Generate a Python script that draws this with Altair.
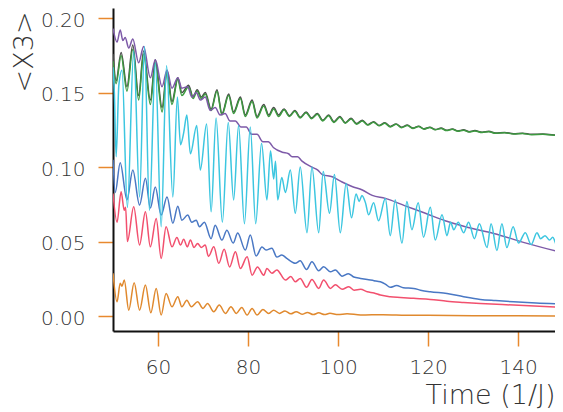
import altair as alt
import pandas as pd

# ---- data (time, <X3>) ----
orange_t = [50.0, 50.9, 51.6, 52.0, 52.5, 53.5, 54.7, 55.9, 57.2, 58.4, 59.6, 60.7, 61.8, 63.1, 64.4, 65.3,
            66.4, 67.4, 68.8, 70.0, 71.0, 72.4, 73.6, 75.0, 76.2, 77.4, 78.6, 79.8, 80.9, 82.0, 83.3, 84.6,
            85.7, 87.0, 88.2, 89.5, 90.7, 92.0, 93.2, 94.5, 95.7, 97.0, 98.2, 100.0, 102.0, 105.0, 110.0,
            115.0, 120.0, 130.0, 140.0, 150.0]
orange_v = [0.0287, 0.0096, 0.022, 0.020, 0.0242, 0.004, 0.0224, 0.004, 0.0208, 0.0022, 0.0186, 0.0007,
            0.0152, 0.0062, 0.013, 0.0062, 0.0107, 0.0062, 0.0096, 0.0051, 0.0085, 0.0029, 0.0074, 0.0018,
            0.0062, 0.0018, 0.0058, 0.0007, 0.0051, 0.0007, 0.0045, 0.0018, 0.0040, 0.0018, 0.0035, 0.0015,
            0.0030, 0.0012, 0.0025, 0.0010, 0.0022, 0.0010, 0.0019, 0.0010, 0.0016, 0.0008, 0.0009, 0.0006,
            0.0005, 0.0003, 0.0002, 0.0001]

red_t = [50.0, 50.9, 51.8, 52.5, 52.8, 53.2, 54.6, 55.9, 57.2, 58.3, 59.6, 60.7, 61.8, 63.1, 64.2, 65.0,
         65.7, 66.5, 67.2, 68.0, 68.8, 69.6, 70.5, 71.2, 72.4, 73.5, 74.7, 75.9, 77.2, 78.3, 79.8, 80.9,
         82.1, 83.5, 84.2, 85.3, 86.4, 88.3, 89.5, 90.5, 91.6, 93.0, 94.2, 95.7, 96.8, 98.3, 99.4, 100.9,
         102.4, 103.6, 105.0, 106.5, 108.0, 109.4, 111.6, 113.8, 116.8, 120.5, 124.2, 127.9, 131.6, 139.0,
         150.0]
red_v = [0.0823, 0.063, 0.0834, 0.071, 0.073, 0.050, 0.0734, 0.0477, 0.070, 0.0465, 0.0655, 0.0387, 0.060,
         0.0465, 0.0528, 0.0477, 0.0515, 0.0465, 0.051, 0.046, 0.0488, 0.046, 0.0477, 0.040, 0.0465, 0.0354,
         0.0448, 0.033, 0.0432, 0.032, 0.0398, 0.0275, 0.033, 0.0275, 0.032, 0.0287, 0.031, 0.0242, 0.0265,
         0.023, 0.0253, 0.0193, 0.0246, 0.0186, 0.0242, 0.0186, 0.021, 0.018, 0.0197, 0.0174, 0.018, 0.0163,
         0.0155, 0.0141, 0.013, 0.0125, 0.0119, 0.0112, 0.010, 0.0092, 0.0085, 0.0074, 0.0058]

blue_t = [50.0, 50.5, 51.6, 53.1, 54.4, 55.9, 57.2, 58.3, 59.4, 60.7, 62.0, 63.3, 64.4, 65.3, 66.6, 67.5,
          68.5, 69.2, 70.3, 71.8, 72.7, 74.2, 75.3, 76.7, 77.7, 79.4, 80.5, 81.8, 83.1, 84.0, 85.3, 86.4,
          87.5, 88.7, 90.5, 91.6, 93.0, 94.2, 95.7, 96.8, 98.3, 99.4, 100.9, 102.3, 103.5, 105.0, 106.5,
          108.0, 109.4, 110.5, 111.6, 113.0, 114.5, 116.8, 118.3, 120.5, 124.2, 127.9, 131.6, 135.0, 139.0,
          144.0, 150.0]
blue_v = [0.105, 0.083, 0.103, 0.078, 0.098, 0.0745, 0.0926, 0.0725, 0.0866, 0.0678, 0.080, 0.0624, 0.0738,
          0.0644, 0.0678, 0.063, 0.0644, 0.060, 0.063, 0.052, 0.061, 0.051, 0.0577, 0.049, 0.0557, 0.0443,
          0.0544, 0.0403, 0.0463, 0.0443, 0.0456, 0.0396, 0.041, 0.0385, 0.0354, 0.0371, 0.0313, 0.0365,
          0.0304, 0.0331, 0.0297, 0.031, 0.0268, 0.0285, 0.0262, 0.0253, 0.0245, 0.0238, 0.023, 0.0215,
          0.0193, 0.0205, 0.019, 0.0186, 0.0174, 0.0163, 0.0152, 0.013, 0.0112, 0.0104, 0.0096, 0.0088,
          0.0082]

cyan_t = [50.0, 50.3, 50.7, 51.3, 52.0, 53.2, 54.6, 55.9, 57.0, 58.1, 59.4, 60.7, 61.9, 63.3, 64.3, 65.0,
          65.7, 66.4, 67.2, 68.6, 69.4, 70.8, 71.8, 72.9, 74.3, 75.6, 76.8, 77.9, 79.2, 80.5, 81.7, 83.0,
          84.2, 85.0, 85.7, 86.1, 86.6, 87.5, 88.3, 89.4, 90.5, 91.6, 93.1, 94.2, 95.7, 96.7, 98.1, 99.2,
          100.5, 101.8, 103.0, 104.0, 104.7, 105.3, 106.1, 106.8, 107.9, 109.0, 110.5, 111.6, 112.7, 114.2,
          115.3, 116.4, 117.8, 119.0, 120.5, 121.6, 123.1, 124.2, 125.0, 125.7, 126.7, 127.9, 129.0, 130.3,
          131.4, 133.1, 134.0, 135.3, 136.4, 137.5, 138.9, 140.1, 141.6, 142.9, 144.2, 145.0, 146.0, 147.0,
          147.7, 148.8, 150.0]
cyan_v = [0.167, 0.150, 0.107, 0.155, 0.165, 0.073, 0.178, 0.080, 0.181, 0.071, 0.170, 0.060, 0.168, 0.080,
          0.147, 0.115, 0.123, 0.135, 0.109, 0.128, 0.098, 0.129, 0.070, 0.133, 0.063, 0.130, 0.078, 0.128,
          0.062, 0.127, 0.062, 0.116, 0.078, 0.111, 0.092, 0.104, 0.078, 0.093, 0.083, 0.098, 0.069, 0.100,
          0.056, 0.100, 0.056, 0.097, 0.069, 0.095, 0.056, 0.089, 0.066, 0.082, 0.077, 0.081, 0.076, 0.068,
          0.076, 0.064, 0.079, 0.054, 0.078, 0.049, 0.077, 0.058, 0.076, 0.053, 0.073, 0.051, 0.068, 0.054,
          0.063, 0.058, 0.063, 0.056, 0.063, 0.052, 0.062, 0.046, 0.062, 0.044, 0.062, 0.046, 0.060, 0.049,
          0.056, 0.048, 0.056, 0.052, 0.054, 0.051, 0.053, 0.046, 0.053]

purple_t = [50.0, 50.9, 51.6, 52.2, 52.7, 53.5, 54.4, 55.7, 56.8, 58.3, 59.4, 60.9, 62.0, 63.1, 64.4, 65.3,
            66.6, 67.5, 68.5, 69.4, 70.5, 71.6, 72.7, 73.8, 74.9, 76.0, 77.2, 78.4, 79.6, 80.8, 82.0, 83.3,
            84.5, 85.7, 87.6, 89.0, 89.8, 91.0, 92.0, 94.2, 95.5, 96.5, 98.7, 100.9, 103.1, 105.4, 107.6,
            110.5, 114.9, 119.4, 123.8, 128.3, 134.6, 142.0, 150.0]
purple_v = [0.193, 0.184, 0.192, 0.185, 0.187, 0.180, 0.186, 0.170, 0.181, 0.160, 0.172, 0.154, 0.165, 0.153,
            0.160, 0.153, 0.154, 0.147, 0.150, 0.145, 0.147, 0.138, 0.140, 0.135, 0.136, 0.131, 0.131, 0.127,
            0.127, 0.122, 0.122, 0.117, 0.117, 0.113, 0.110, 0.109, 0.107, 0.107, 0.104, 0.100, 0.098, 0.095,
            0.0935, 0.090, 0.087, 0.0846, 0.081, 0.079, 0.074, 0.069, 0.064, 0.060, 0.0555, 0.0488, 0.0425]

gray_t = [50.0, 50.7, 51.8, 53.1, 54.4, 55.7, 56.8, 58.3, 59.4, 60.9, 62.0, 63.1, 64.4, 65.3, 66.8, 67.8,
          68.7, 69.6, 70.5, 71.8, 73.1, 74.2, 75.7, 76.8, 78.3, 79.4, 80.9, 82.0, 83.5, 84.6, 85.7, 86.8,
          88.0, 89.2, 90.4, 91.6, 92.9, 94.1, 95.4, 96.6, 97.9, 99.1, 100.4, 101.6, 102.9, 104.1, 105.4,
          106.6, 107.9, 109.1, 110.4, 111.6, 112.9, 114.1, 115.4, 116.6, 117.9, 119.1, 120.4, 121.6, 122.9,
          124.1, 125.4, 126.6, 127.9, 129.1, 130.4, 132.0, 133.5, 135.0, 137.0, 139.0, 141.0, 143.0, 145.5,
          148.0, 150.0]
gray_v = [0.176, 0.158, 0.177, 0.154, 0.182, 0.148, 0.178, 0.145, 0.172, 0.140, 0.165, 0.144, 0.160, 0.150,
          0.155, 0.147, 0.152, 0.147, 0.150, 0.139, 0.152, 0.136, 0.149, 0.137, 0.147, 0.135, 0.145, 0.134,
          0.142, 0.135, 0.140, 0.135, 0.139, 0.1345, 0.138, 0.1335, 0.137, 0.133, 0.136, 0.1315, 0.135,
          0.1305, 0.134, 0.1298, 0.1328, 0.1292, 0.1315, 0.1285, 0.1305, 0.128, 0.1298, 0.1273, 0.129,
          0.1268, 0.1282, 0.1262, 0.1275, 0.1257, 0.1268, 0.1252, 0.1262, 0.1247, 0.1256, 0.1243, 0.125,
          0.1238, 0.1245, 0.1234, 0.124, 0.1229, 0.1233, 0.1224, 0.1227, 0.122, 0.1222, 0.1216, 0.1215]

green_t = gray_t
green_v = [0.171, 0.156, 0.175, 0.151, 0.179, 0.145, 0.176, 0.142, 0.170, 0.137, 0.163, 0.142, 0.159, 0.148,
           0.154, 0.146, 0.151, 0.146, 0.149, 0.138, 0.151, 0.135, 0.148, 0.136, 0.146, 0.134, 0.144, 0.133,
           0.141, 0.134, 0.139, 0.134, 0.1385, 0.134, 0.1375, 0.133, 0.1365, 0.1325, 0.1355, 0.131, 0.1345,
           0.130, 0.1335, 0.1295, 0.1323, 0.1288, 0.131, 0.1282, 0.1301, 0.1277, 0.1294, 0.127, 0.1287,
           0.1265, 0.1279, 0.126, 0.1272, 0.1255, 0.1266, 0.125, 0.126, 0.1245, 0.1254, 0.1241, 0.1248,
           0.1236, 0.1243, 0.1232, 0.1238, 0.1227, 0.1231, 0.1222, 0.1225, 0.1218, 0.122, 0.1214, 0.1213]

# drawing order: first is at the bottom
series = [
    ("orange", orange_t, orange_v, "#e0892e"),
    ("red", red_t, red_v, "#f2506e"),
    ("blue", blue_t, blue_v, "#4a78c4"),
    ("gray", gray_t, gray_v, "#4a4a4a"),
    ("green", green_t, green_v, "#3d9a40"),
    ("purple", purple_t, purple_v, "#7d5aa8"),
    ("cyan", cyan_t, cyan_v, "#3cc6e0"),
]

x_ticks = [60, 80, 100, 120, 140]
y_ticks = [0.0, 0.05, 0.10, 0.15, 0.20]

FONT = "DejaVu Sans"
TICK = "#e8892e"

x_axis = alt.Axis(values=x_ticks, grid=False, tickColor=TICK, tickSize=15, tickWidth=1.5,
                  labelFont=FONT, labelFontSize=20, labelColor="#333333", labelPadding=11,
                  labelFontWeight=300, domainColor="#111111", domainWidth=2,
                  title="Time (1/J)", titleFont=FONT, titleFontSize=27, titleFontWeight=300,
                  titleColor="#333333", titleAnchor="end", titleAlign="right",
                  titleBaseline="alphabetic", titleX=442, titleY=72)
y_axis = alt.Axis(values=y_ticks, format=".2f", grid=False, tickColor=TICK, tickSize=15, tickWidth=1.5,
                  labelFont=FONT, labelFontSize=20, labelColor="#333333", labelPadding=13,
                  labelOffset=2,
                  labelFontWeight=300, domainColor="#111111", domainWidth=2,
                  title="<X3>", titleFont=FONT, titleFontSize=27, titleFontWeight=300,
                  titleColor="#333333", titleAngle=270, titleAlign="right",
                  titleBaseline="alphabetic", titleX=-81, titleY=3)

x_scale = alt.Scale(domain=[50, 148.2], nice=False, zero=False)
y_scale = alt.Scale(domain=[-0.01, 0.2068], nice=False, zero=False)

layers = []
for name, ts, vs, col in series:
    df = pd.DataFrame({"t": ts, "v": vs})
    layers.append(
        alt.Chart(df).mark_line(color=col, strokeWidth=1.5, interpolate="monotone", clip=True).encode(
            x=alt.X("t:Q", scale=x_scale, axis=x_axis),
            y=alt.Y("v:Q", scale=y_scale, axis=y_axis),
        )
    )

chart = alt.layer(*layers).properties(
    width=442, height=323,
    autosize=alt.AutoSizeParams(type="none"),
    padding={"left": 105, "top": 0, "right": 0, "bottom": 78},
    background="white",
).configure_view(stroke=None)

chart.save("out.html", embed_options={"renderer": "svg", "actions": False})
